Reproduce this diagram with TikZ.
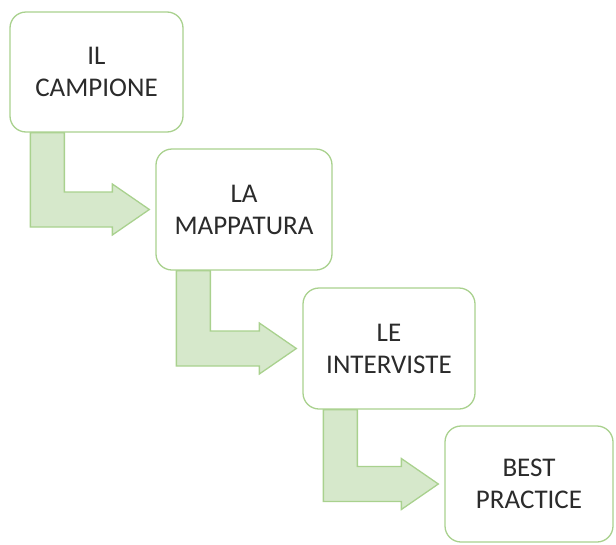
\documentclass[tikz,border=0pt]{standalone}
\usepackage{fontspec}
\setmainfont{Carlito}
\usetikzlibrary{calc,backgrounds}
\definecolor{boxline}{HTML}{A9D18E}
\definecolor{arrowfill}{HTML}{D6E8CB}
\definecolor{txt}{HTML}{2B2B2B}
\tikzset{
  stepbox/.style={draw=boxline, line width=1.3pt, fill=white, rounded corners=16pt,
    align=center, text=txt, inner sep=0pt,
    font=\fontsize{27}{32}\selectfont},
  bentarrow/.style={draw=boxline, line width=1.3pt, fill=arrowfill, line join=miter}
}
\newcommand{\bentarrow}[2]{%
  \draw[bentarrow] let \p1=(#1.south west), \p2=(#2.west) in
  (\x1+21,\y1) -- (\x1+55,\y1) -- (\x1+55,\y2+17.5) -- (\x2-43,\y2+17.5) --
  (\x2-43,\y2+25.5) -- (\x2-6,\y2) -- (\x2-43,\y2-25.5) -- (\x2-43,\y2-17.5) --
  (\x1+21,\y2-17.5) -- cycle;}
\begin{document}
\begin{tikzpicture}[x=1pt,y=-1pt]
\useasboundingbox (0,0) rectangle (616,544);
\node[stepbox, minimum width=173pt, minimum height=120pt] (b1) at (96.5,72) {IL\\CAMPIONE};
\node[stepbox, minimum width=176pt, minimum height=121pt] (b2) at (244,209.5) {LA\\MAPPATURA};
\node[stepbox, minimum width=172pt, minimum height=121pt] (b3) at (389,348.5) {LE\\INTERVISTE};
\node[stepbox, minimum width=168pt, minimum height=116pt] (b4) at (529,484) {BEST\\PRACTICE};
\begin{scope}[on background layer]
\bentarrow{b1}{b2}
\bentarrow{b2}{b3}
\bentarrow{b3}{b4}
\end{scope}
\end{tikzpicture}
\end{document}
